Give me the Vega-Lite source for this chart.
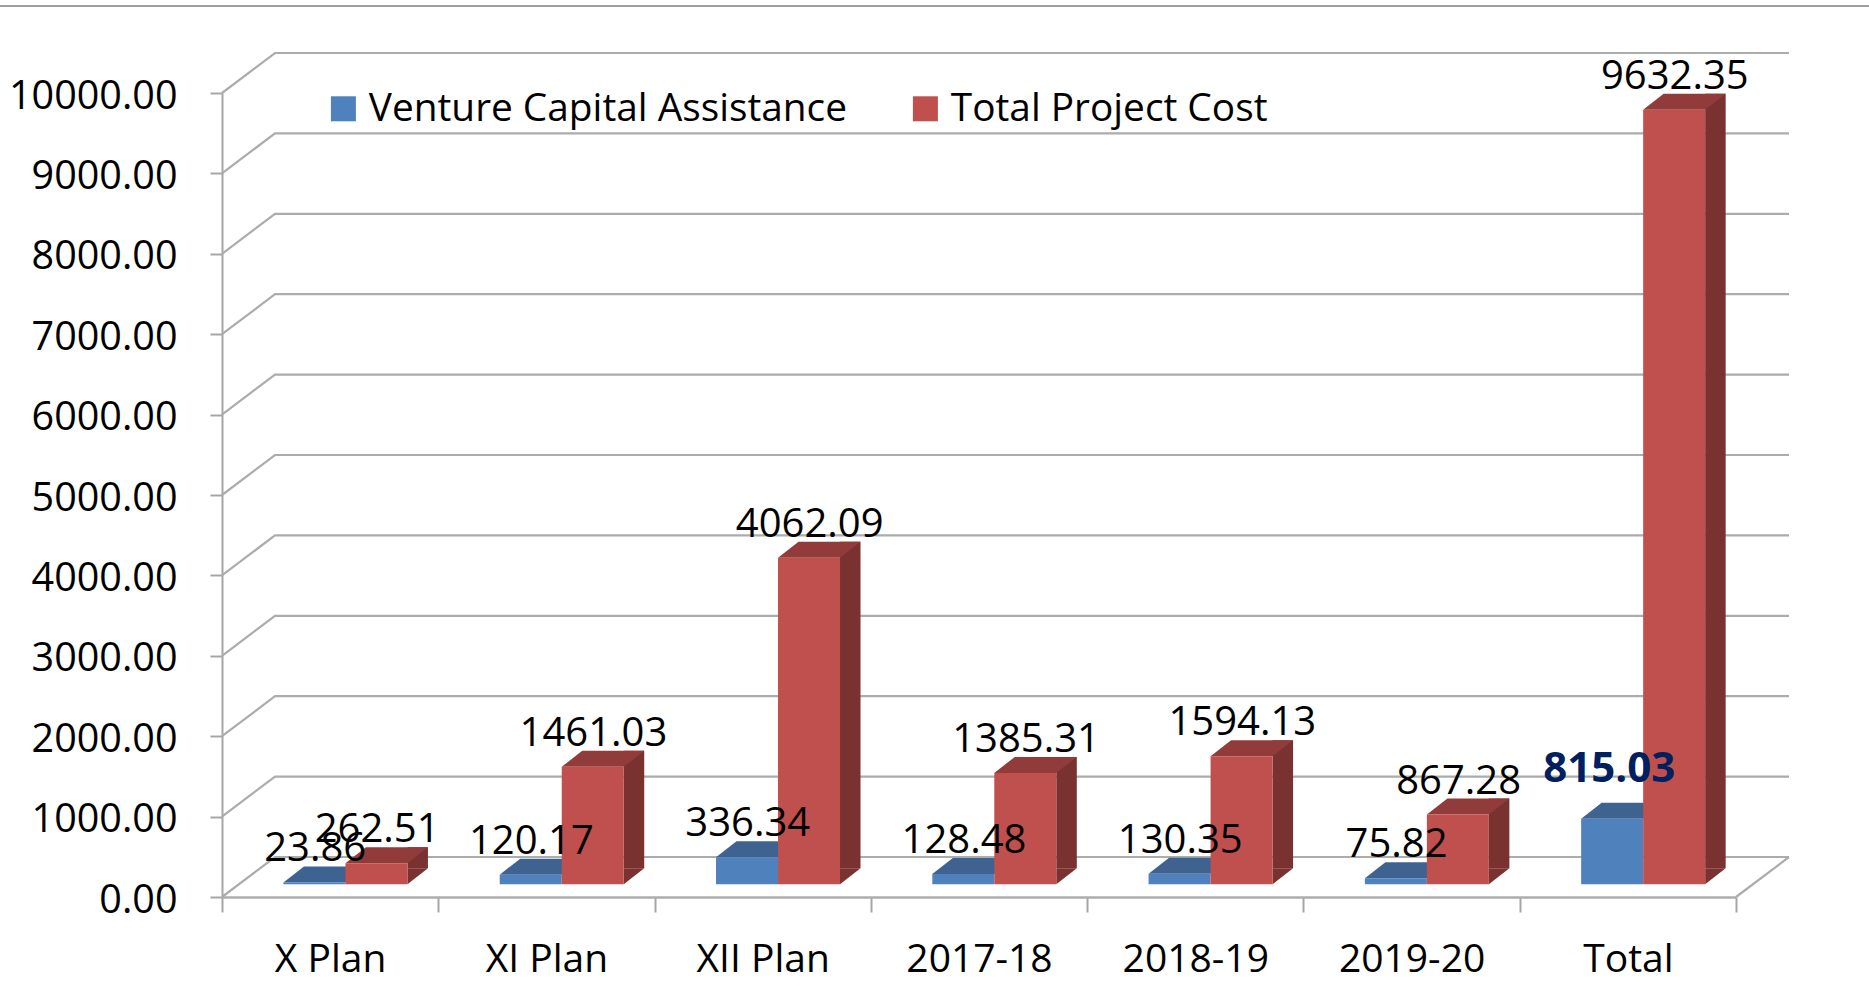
{
"$schema":"https://vega.github.io/schema/vega-lite/v6.json",
"width":1514,"height":804,
"autosize":{"type":"none"},
"padding":{"left":222,"top":93,"right":133,"bottom":99},
"background":"white",
"config":{"view":{"stroke":null},"font":"Open Sans"},
"datasets":{
"rows":[
{"period":"X Plan","series":"Venture Capital Assistance","value":23.86},
{"period":"XI Plan","series":"Venture Capital Assistance","value":120.17},
{"period":"XII Plan","series":"Venture Capital Assistance","value":336.34},
{"period":"2017-18","series":"Venture Capital Assistance","value":128.48},
{"period":"2018-19","series":"Venture Capital Assistance","value":130.35},
{"period":"2019-20","series":"Venture Capital Assistance","value":75.82},
{"period":"Total","series":"Venture Capital Assistance","value":815.03},
{"period":"X Plan","series":"Total Project Cost","value":262.51},
{"period":"XI Plan","series":"Total Project Cost","value":1461.03},
{"period":"XII Plan","series":"Total Project Cost","value":4062.09},
{"period":"2017-18","series":"Total Project Cost","value":1385.31},
{"period":"2018-19","series":"Total Project Cost","value":1594.13},
{"period":"2019-20","series":"Total Project Cost","value":867.28},
{"period":"Total","series":"Total Project Cost","value":9632.35}
],
"ticks":[{"t":0},{"t":1000},{"t":2000},{"t":3000},{"t":4000},{"t":5000},{"t":6000},{"t":7000},{"t":8000},{"t":9000},{"t":10000}]
},
"data":{"name":"rows"},
"encoding":{
"x":{"field":"period","type":"nominal","sort":null,"title":null,
 "scale":{"domain":["X Plan","XI Plan","XII Plan","2017-18","2018-19","2019-20","Total"],"paddingInner":0,"paddingOuter":0},
 "axis":{"tickBand":"extent","labelAngle":0,"labelFont":"Open Sans","labelFontSize":39,"labelColor":"#000000","labelPadding":28,"tickSize":15,"tickWidth":2,"tickColor":"#A6A6A6","domainColor":"#ADADAD","domainWidth":2.5,"grid":false}},
"y":{"field":"value","type":"quantitative","title":null,
 "scale":{"domain":[0,10000],"nice":false},
 "axis":{"values":[0,1000,2000,3000,4000,5000,6000,7000,8000,9000,10000],"format":".2f","labelFont":"Open Sans","labelFontSize":39.5,"labelColor":"#000000","labelPadding":33,"labelOffset":3,"tickSize":12,"tickWidth":2,"tickColor":"#A6A6A6","domainColor":"#A6A6A6","domainWidth":2,"grid":false}}
},
"layer":[
{"data":{"name":"ticks"},"mark":{"type":"point","shape":"M0,0 L53,-40 L1567,-40","size":4,"filled":false,"stroke":"#ACACAC","strokeWidth":2.2,"opacity":1},
 "encoding":{"x":{"datum":"X Plan","bandPosition":0},"y":{"field":"t","type":"quantitative"}}},
{"data":{"values":[{"t":0}]},"mark":{"type":"point","shape":"M0,0 L53,-40","size":4,"filled":false,"stroke":"#ACACAC","strokeWidth":2.2,"opacity":1},
 "encoding":{"x":{"datum":"Total","bandPosition":1},"y":{"field":"t","type":"quantitative"}}},
{"data":{"values":[{"t":10000}]},"mark":{"type":"point","shape":"M-340,0 L1600,0","size":4,"filled":false,"stroke":"#9E9E9E","strokeWidth":2,"opacity":1,"yOffset":-87},
 "encoding":{"x":{"datum":"X Plan"},"y":{"field":"t","type":"quantitative"}}},

{"transform":[{"filter":"datum.series==='Venture Capital Assistance'"}],
 "mark":{"type":"point","shape":"M0,0 L62,0 L82.5,-16 L20.5,-16 Z","size":4,"filled":true,"fill":"#3F6391","opacity":1,"xOffset":-46.7,"yOffset":-12.7}},
{"transform":[{"filter":"datum.series==='Venture Capital Assistance'"}],
 "mark":{"type":"bar","size":62,"xOffset":-15.7,"yOffset":-12.7,"y2Offset":-12.7},
 "encoding":{"y2":{"datum":0},"color":{"field":"series","type":"nominal","title":null,
  "scale":{"domain":["Venture Capital Assistance","Total Project Cost"],"range":["#4F81BD","#C0504D"]},
  "legend":{"orient":"none","legendX":102,"legendY":-4,"direction":"horizontal","columns":2,"columnPadding":59,"symbolType":"square","symbolSize":625,"symbolStrokeWidth":0,"labelFont":"Open Sans","labelFontSize":38.8,"labelColor":"#000000","labelOffset":6,"labelLimit":600,"padding":0}}}},

{"transform":[{"filter":"datum.series==='Total Project Cost'"}],
 "mark":{"type":"bar","size":20.5,"color":"#7A3230","xOffset":87.55,"yOffset":-28.7,"y2Offset":-28.7},
 "encoding":{"y2":{"datum":0}}},
{"transform":[{"filter":"datum.series==='Total Project Cost'"}],
 "mark":{"type":"point","shape":"M0,0 L20.5,-16 L0,-16 Z","size":4,"filled":true,"fill":"#7A3230","opacity":1,"xOffset":77.3,"yOffset":-12.7},
 "encoding":{"y":{"datum":0}}},
{"transform":[{"filter":"datum.series==='Total Project Cost'"}],
 "mark":{"type":"point","shape":"M0,0 L62,0 L82.5,-16 L20.5,-16 Z","size":4,"filled":true,"fill":"#913B3A","opacity":1,"xOffset":15.3,"yOffset":-12.7}},
{"transform":[{"filter":"datum.series==='Total Project Cost'"}],
 "mark":{"type":"bar","size":62,"xOffset":46.3,"yOffset":-12.7,"y2Offset":-12.7},
 "encoding":{"y2":{"datum":0},"color":{"field":"series","type":"nominal","title":null}}},

{"transform":[{"filter":"datum.series==='Venture Capital Assistance' && datum.period!=='Total'"}],
 "mark":{"type":"text","font":"Open Sans","fontSize":40,"color":"#000000","baseline":"middle","xOffset":-15,"yOffset":-12.7,"dy":-33},
 "encoding":{"text":{"field":"value","type":"quantitative","format":".2f"}}},
{"transform":[{"filter":"datum.series==='Total Project Cost'"}],
 "mark":{"type":"text","font":"Open Sans","fontSize":40,"color":"#000000","baseline":"middle","xOffset":47,"yOffset":-12.7,"dy":-33},
 "encoding":{"text":{"field":"value","type":"quantitative","format":".2f"}}},
{"transform":[{"filter":"datum.series==='Venture Capital Assistance' && datum.period==='Total'"}],
 "mark":{"type":"text","font":"Open Sans","fontSize":42,"fontWeight":"bold","color":"#002060","baseline":"middle","xOffset":-18.6,"yOffset":-12.7,"dy":-50},
 "encoding":{"text":{"field":"value","type":"quantitative","format":".2f"}}}
]
}
